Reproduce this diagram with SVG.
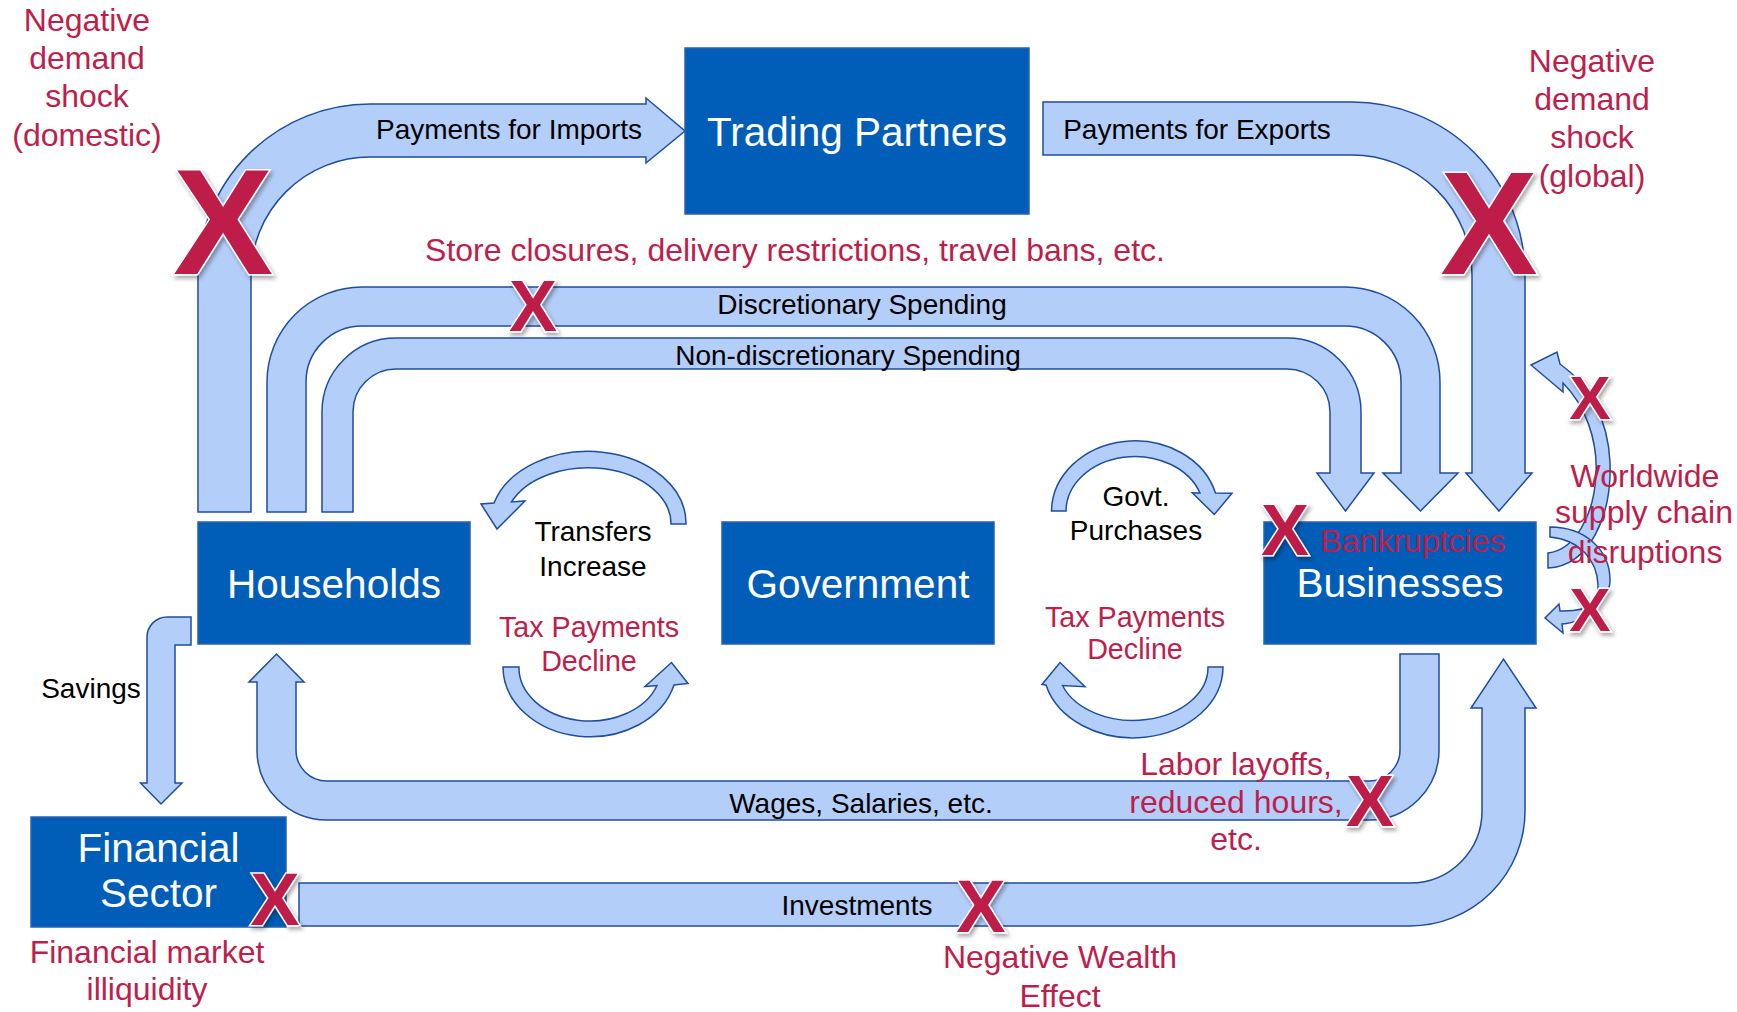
<svg xmlns="http://www.w3.org/2000/svg" width="1737" height="1012" viewBox="0 0 1737 1012">
<defs>
<style>
.flow{fill:#B4CEFA;stroke:#1F4E9C;stroke-width:1.5;stroke-linejoin:miter}
.node{fill:#005EB8;stroke:#2A62B0;stroke-width:1.5}
.nt{font-family:"Liberation Sans",Arial,sans-serif;font-size:40.5px;fill:#fff;text-anchor:middle}
.lb{font-family:"Liberation Sans",Arial,sans-serif;font-size:28px;fill:#000;text-anchor:middle}
.rd{font-family:"Liberation Sans",Arial,sans-serif;font-size:32px;fill:#BE1E4B;text-anchor:middle}
.tx{font-family:"Liberation Sans",Arial,sans-serif;font-size:28.7px;fill:#BE1E4B;text-anchor:middle}
.x{font-family:"Liberation Sans",Arial,sans-serif;font-weight:bold;fill:#BE1E4A;stroke:#fff;stroke-width:3;paint-order:stroke;text-anchor:middle;filter:url(#sh)}
</style>
<filter id="sh" x="-30%" y="-30%" width="160%" height="160%">
<feDropShadow dx="2" dy="3" stdDeviation="2" flood-color="#000" flood-opacity="0.35"/>
</filter>
</defs>
<rect width="1737" height="1012" fill="#fff"/>

<g id="connectors">
<!-- Payments for Imports -->
<path class="flow" d="M198,512 L198,276 A172,172 0 0 1 370,104 L646,104 L646,98 L685,131 L646,163 L646,157 L370,157 A119,119 0 0 0 251,276 L251,512 Z"/>
<!-- Payments for Exports -->
<path class="flow" d="M1043,102 L1352,102 A173,173 0 0 1 1525,275 L1525,473 L1532,473 L1499,511 L1466,473 L1472,473 L1472,275 A120,120 0 0 0 1352,155 L1043,155 Z"/>
<!-- Discretionary Spending -->
<path class="flow" d="M267,512 L267,382 A95,95 0 0 1 362,287 L1345,287 A95,95 0 0 1 1440,382 L1440,473 L1458,473 L1420.5,511 L1383,473 L1401,473 L1401,382 A56,56 0 0 0 1345,326 L362,326 A56,56 0 0 0 306,382 L306,512 Z"/>
<!-- Non-discretionary Spending -->
<path class="flow" d="M322,512 L322,412 A74,74 0 0 1 396,338 L1287,338 A74,74 0 0 1 1361,412 L1361,473 L1374,473 L1345.5,511 L1317,473 L1330,473 L1330,412 A43,43 0 0 0 1287,369 L396,369 A43,43 0 0 0 353,412 L353,512 Z"/>
<!-- Wages -->
<path class="flow" d="M1400,654 L1439,654 L1439,750 A70,70 0 0 1 1369,820 L327,820 A70,70 0 0 1 257,750 L257,682 L249,682 L276.5,654 L304,682 L296,682 L296,750 A31,31 0 0 0 327,781 L1369,781 A31,31 0 0 0 1400,750 Z"/>
<!-- Investments -->
<path class="flow" d="M299,883 L1410,883 A72,72 0 0 0 1482,811 L1482,708 L1471,708 L1503.5,659 L1536,708 L1525,708 L1525,811 A115,115 0 0 1 1410,926 L299,926 Z"/>
<!-- Savings -->
<path class="flow" d="M191,617 L167,617 A20,20 0 0 0 147,637 L147,783 L140.5,783 L161,804 L182,783 L175,783 L175,645 L191,645 Z"/>
<!-- Transfers increase loop -->
<path class="flow" d="M686,524 A98,72 0 0 0 494,503 L481,504 L497,529 L525,501 L511.5,502 A83,56 0 0 1 671,524 Z"/>
<!-- Tax payments (households) loop -->
<path class="flow" d="M503,667 A87,70 0 0 0 674,685 L688,683.5 L671.5,662.5 L645,686.5 L657,685.5 A71,53 0 0 1 519,667 Z"/>
<!-- Govt purchases loop -->
<path class="flow" d="M1051.5,511 A83.5,71 0 0 1 1215.5,493 L1232,493.3 L1214.3,514.5 L1192.3,492.7 L1200,493 A69,55 0 0 0 1066,511 Z"/>
<!-- Tax payments (businesses) loop -->
<path class="flow" d="M1223,667 A90,71 0 0 1 1046,685 L1042,684.5 L1060,662.5 L1085,686.7 L1062.5,685.5 A75,53 0 0 0 1208,667 Z"/>
<!-- Supply chain arrows -->
<path class="flow" d="M1548,568 C1590,566 1612,515 1610,462 C1608,420 1590,385 1560,364 L1557,352 L1531,365 L1563,392 L1563,383 C1585,405 1598,440 1596,475 C1594,515 1575,550 1548,553 Z"/>
<path class="flow" d="M1550,527 C1585,527 1610,550 1610,580 C1610,600 1590,612 1560,611 L1559,604 L1545,618 L1563,633 L1562,624 C1590,622 1599,600 1598,585 C1597,560 1580,540 1550,537 Z"/>
</g>

<g id="connector-labels">
<text class="lb" x="509" y="139">Payments for Imports</text>
<text class="lb" x="1197" y="139">Payments for Exports</text>
<text class="lb" x="862" y="314">Discretionary Spending</text>
<text class="lb" x="848" y="365">Non-discretionary Spending</text>
<text class="lb" x="593" y="541">Transfers</text>
<text class="lb" x="593" y="576">Increase</text>
<text class="lb" x="1136" y="506">Govt.</text>
<text class="lb" x="1136" y="540">Purchases</text>
<text class="lb" x="91" y="698">Savings</text>
<text class="lb" x="861" y="813">Wages, Salaries, etc.</text>
<text class="lb" x="857" y="915">Investments</text>
<text class="tx" x="589" y="637">Tax Payments</text>
<text class="tx" x="589" y="671">Decline</text>
<text class="tx" x="1135" y="627">Tax Payments</text>
<text class="tx" x="1135" y="659">Decline</text>
</g>

<g id="node-trading-partners">
<rect class="node" x="685" y="48" width="344" height="166"/>
<text class="nt" x="857" y="146">Trading Partners</text>
</g>
<g id="node-households">
<rect class="node" x="198" y="522" width="272" height="122"/>
<text class="nt" x="334" y="598">Households</text>
</g>
<g id="node-government">
<rect class="node" x="722" y="522" width="272" height="122"/>
<text class="nt" x="858" y="598">Government</text>
</g>
<g id="node-businesses">
<rect class="node" x="1264" y="522" width="272" height="122"/>
<text class="nt" x="1400" y="597">Businesses</text>
<text class="rd" x="1413" y="552">Bankruptcies</text>
</g>
<g id="node-financial-sector">
<rect class="node" x="31" y="817" width="255" height="110"/>
<text class="nt" x="158.5" y="862">Financial</text>
<text class="nt" x="158.5" y="907">Sector</text>
</g>

<g id="shock-labels">
<text class="rd" x="87" y="31">Negative</text>
<text class="rd" x="87" y="69">demand</text>
<text class="rd" x="87" y="107">shock</text>
<text class="rd" x="87" y="146">(domestic)</text>
<text class="rd" x="1592" y="72">Negative</text>
<text class="rd" x="1592" y="110">demand</text>
<text class="rd" x="1592" y="148">shock</text>
<text class="rd" x="1592" y="187">(global)</text>
<text class="rd" x="795" y="261">Store closures, delivery restrictions, travel bans, etc.</text>
<text class="rd" x="1645" y="487">Worldwide</text>
<text class="rd" x="1644" y="523">supply chain</text>
<text class="rd" x="1645" y="563">disruptions</text>
<text class="rd" x="1236" y="775">Labor layoffs,</text>
<text class="rd" x="1236" y="813">reduced hours,</text>
<text class="rd" x="1236" y="850">etc.</text>
<text class="rd" x="1060" y="968">Negative Wealth</text>
<text class="rd" x="1060" y="1007">Effect</text>
<text class="rd" x="147" y="963">Financial market</text>
<text class="rd" x="147" y="1000">illiquidity</text>
</g>

<g id="x-marks">
<text class="x" x="223" y="274" font-size="150">X</text>
<text class="x" x="1489" y="274" font-size="146">X</text>
<text class="x" x="533" y="331" font-size="72">X</text>
<text class="x" x="1285" y="555" font-size="72">X</text>
<text class="x" x="1590" y="419" font-size="62">X</text>
<text class="x" x="1590" y="631" font-size="62">X</text>
<text class="x" x="1370" y="826" font-size="72">X</text>
<text class="x" x="981" y="932" font-size="74">X</text>
<text class="x" x="275" y="925" font-size="74">X</text>
</g>
</svg>
